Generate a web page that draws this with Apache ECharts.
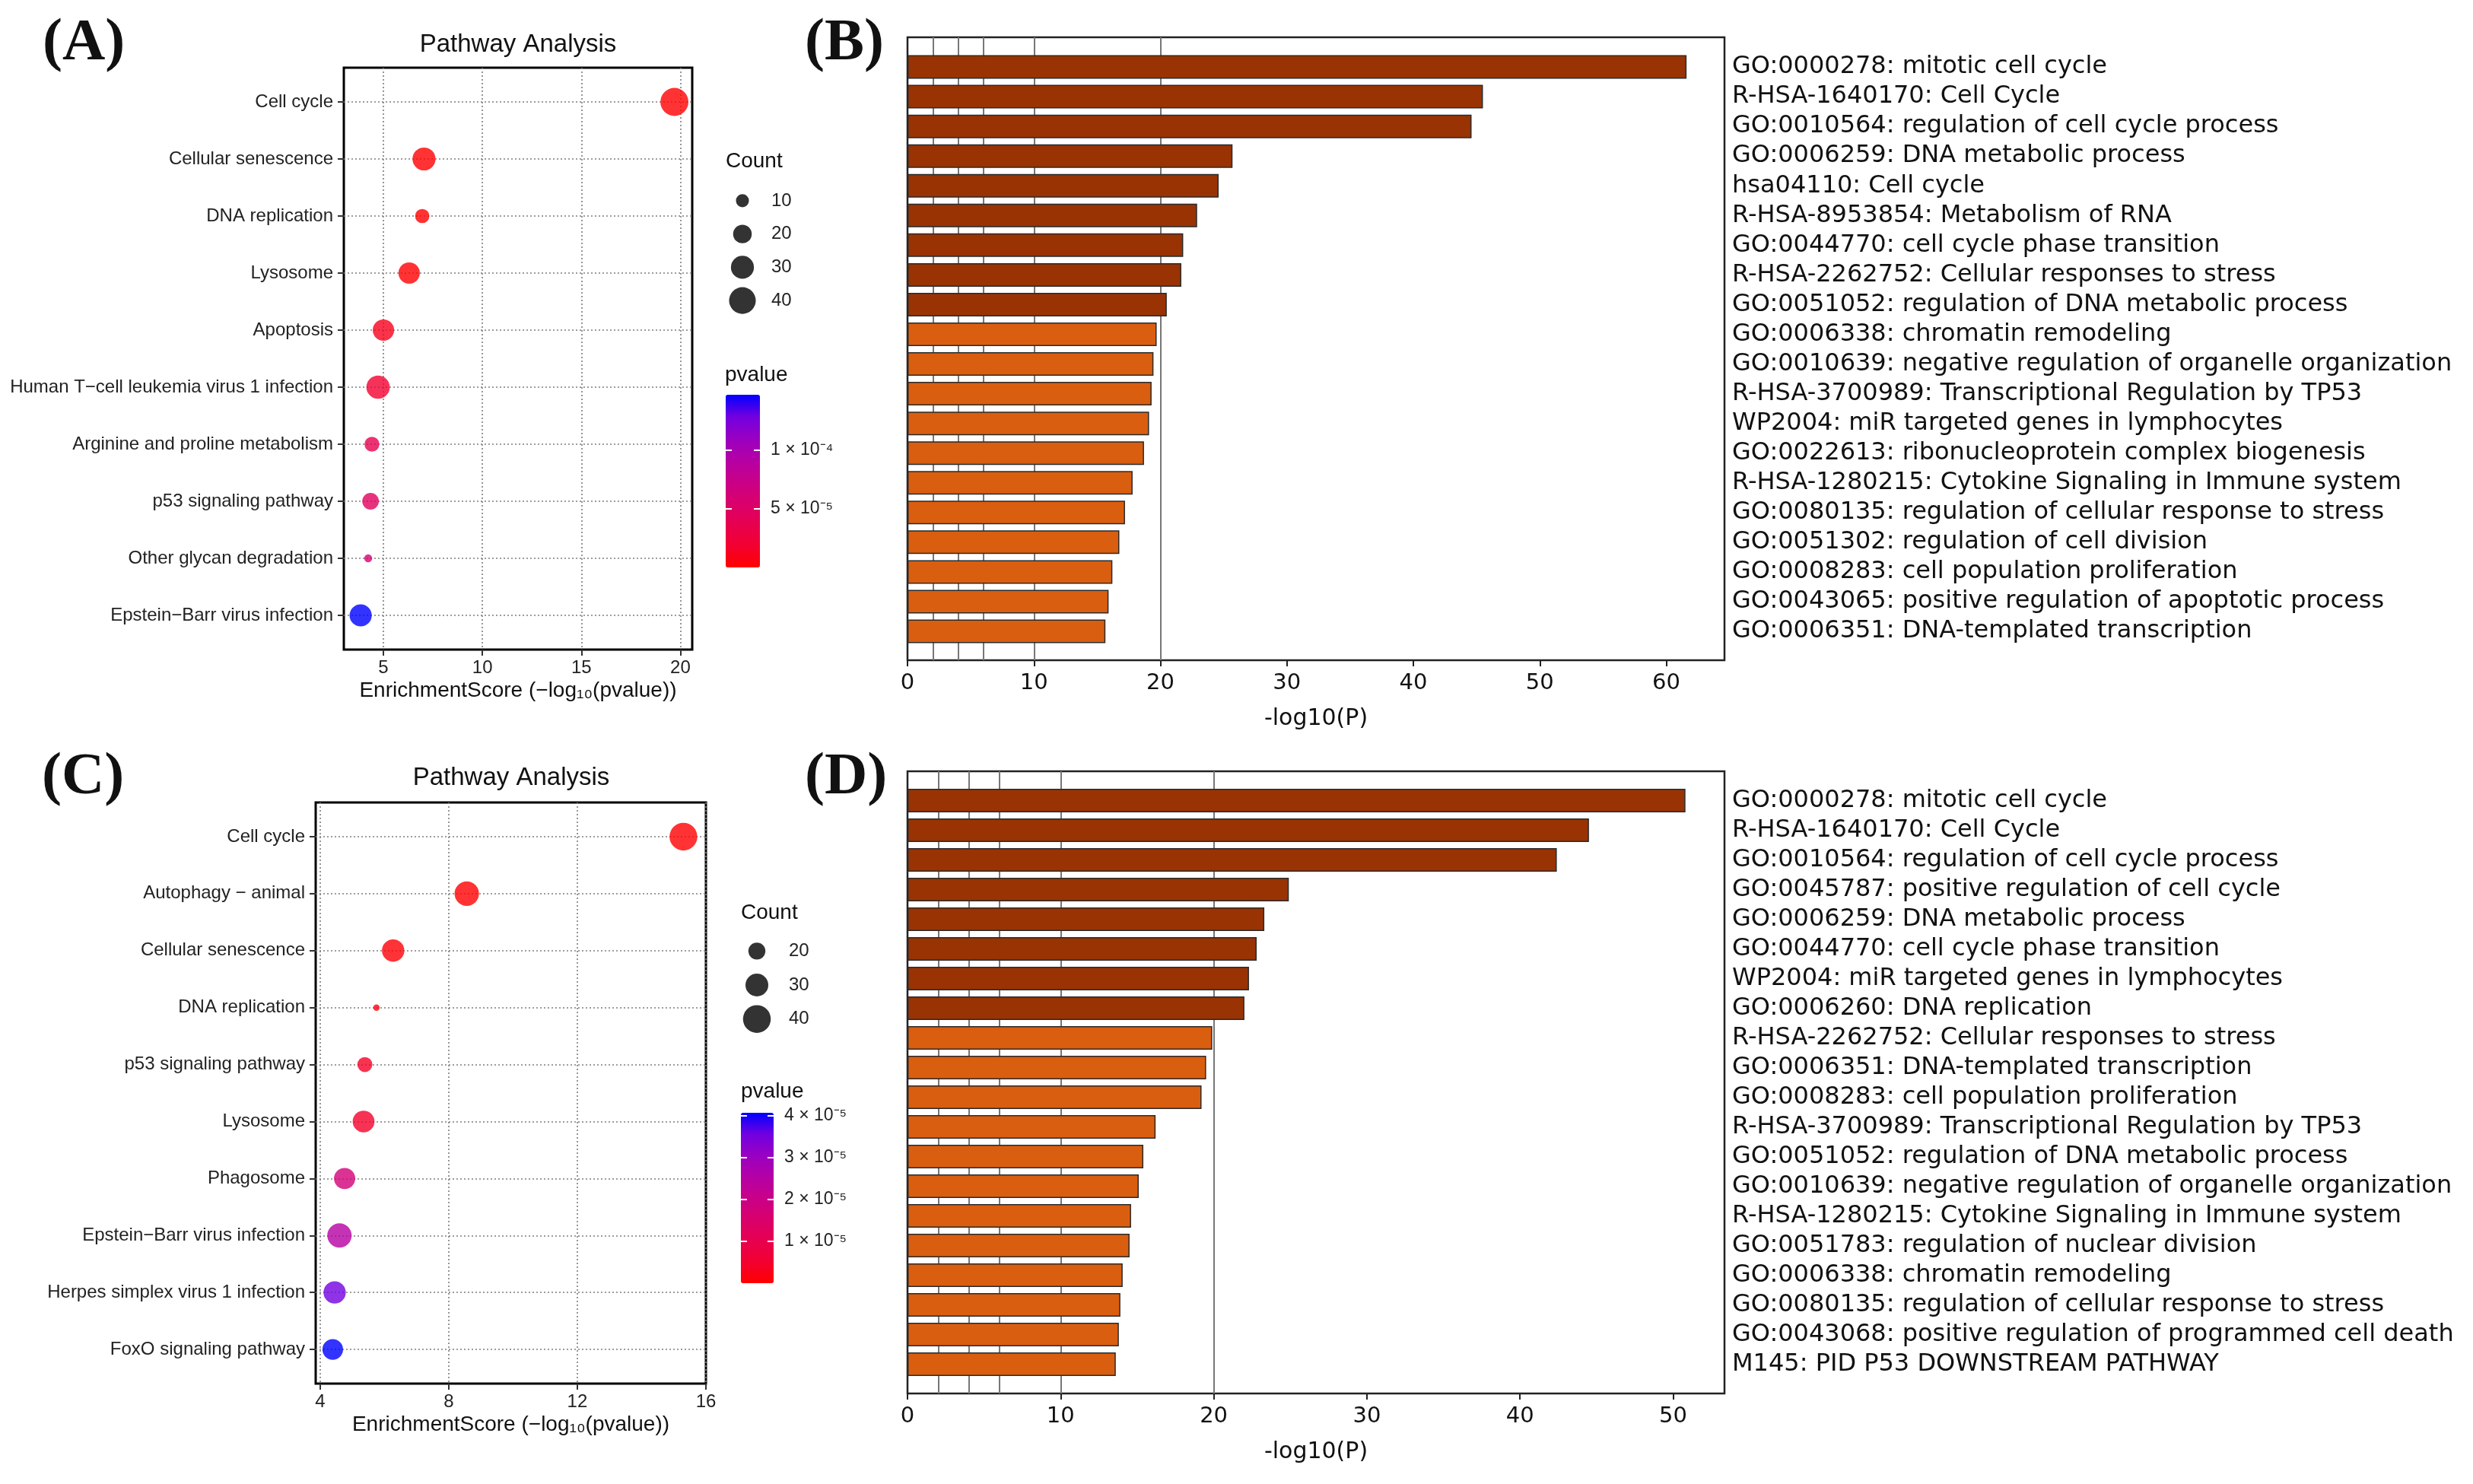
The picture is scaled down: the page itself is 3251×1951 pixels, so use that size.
<!DOCTYPE html>
<html>
<head>
<meta charset="utf-8">
<script src="https://cdn.jsdelivr.net/npm/echarts@6/dist/echarts.min.js"></script>
<style>
html, body { margin: 0; padding: 0; background: #fff; }
#main { width: 3251px; height: 1951px; }
</style>
</head>
<body>
<div id="main"></div>
<script>
// ---- panel A : KEGG bubble chart ----
var pathwaysA = ['Cell cycle', 'Cellular senescence', 'DNA replication', 'Lysosome', 'Apoptosis',
    'Human T\u2212cell leukemia virus 1 infection', 'Arginine and proline metabolism',
    'p53 signaling pathway', 'Other glycan degradation', 'Epstein\u2212Barr virus infection'];
var scoreA = [19.7, 7.05, 6.96, 6.3, 5.0, 4.73, 4.42, 4.35, 4.23, 3.85];
var countA = [44, 30, 12, 26, 26, 31, 13, 16, 4, 28];
var pvalA = [2.0e-20, 8.9e-8, 1.1e-7, 5.0e-7, 1.0e-5, 1.86e-5, 3.8e-5, 4.47e-5, 5.9e-5, 1.47e-4];
var xTicksA = [5, 10, 15, 20];
var countBreaksA = [10, 20, 30, 40];
var cbTicksA = [5e-5, 1e-4];
var cbLabelsA = ['5 \u00d7 10\u207b\u2075', '1 \u00d7 10\u207b\u2074'];

// ---- panel C : KEGG bubble chart ----
var pathwaysC = ['Cell cycle', 'Autophagy \u2212 animal', 'Cellular senescence', 'DNA replication',
    'p53 signaling pathway', 'Lysosome', 'Phagosome', 'Epstein\u2212Barr virus infection',
    'Herpes simplex virus 1 infection', 'FoxO signaling pathway'];
var scoreC = [15.3, 8.56, 6.27, 5.75, 5.39, 5.35, 4.76, 4.6, 4.45, 4.39];
var countC = [40, 33, 29, 7, 17, 28, 27, 33, 29, 26];
var pvalC = [5.0e-16, 2.8e-9, 5.4e-7, 1.8e-6, 4.1e-6, 4.5e-6, 1.74e-5, 2.5e-5, 3.55e-5, 4.07e-5];
var xTicksC = [4, 8, 12, 16];
var countBreaksC = [20, 30, 40];
var cbTicksC = [1e-5, 2e-5, 3e-5, 4e-5];
var cbLabelsC = ['1 \u00d7 10\u207b\u2075', '2 \u00d7 10\u207b\u2075', '3 \u00d7 10\u207b\u2075', '4 \u00d7 10\u207b\u2075'];

// ---- panel B : Metascape bar chart ----
var termsB = ['GO:0000278: mitotic cell cycle', 'R-HSA-1640170: Cell Cycle',
    'GO:0010564: regulation of cell cycle process', 'GO:0006259: DNA metabolic process',
    'hsa04110: Cell cycle', 'R-HSA-8953854: Metabolism of RNA',
    'GO:0044770: cell cycle phase transition', 'R-HSA-2262752: Cellular responses to stress',
    'GO:0051052: regulation of DNA metabolic process', 'GO:0006338: chromatin remodeling',
    'GO:0010639: negative regulation of organelle organization',
    'R-HSA-3700989: Transcriptional Regulation by TP53', 'WP2004: miR targeted genes in lymphocytes',
    'GO:0022613: ribonucleoprotein complex biogenesis',
    'R-HSA-1280215: Cytokine Signaling in Immune system',
    'GO:0080135: regulation of cellular response to stress', 'GO:0051302: regulation of cell division',
    'GO:0008283: cell population proliferation', 'GO:0043065: positive regulation of apoptotic process',
    'GO:0006351: DNA-templated transcription'];
var logPB = [61.6, 45.5, 44.6, 25.7, 24.6, 22.9, 21.8, 21.65, 20.5, 19.7,
    19.45, 19.3, 19.1, 18.7, 17.8, 17.2, 16.75, 16.2, 15.9, 15.65];
var xTicksB = [0, 10, 20, 30, 40, 50, 60];

// ---- panel D : Metascape bar chart ----
var termsD = ['GO:0000278: mitotic cell cycle', 'R-HSA-1640170: Cell Cycle',
    'GO:0010564: regulation of cell cycle process', 'GO:0045787: positive regulation of cell cycle',
    'GO:0006259: DNA metabolic process', 'GO:0044770: cell cycle phase transition',
    'WP2004: miR targeted genes in lymphocytes', 'GO:0006260: DNA replication',
    'R-HSA-2262752: Cellular responses to stress', 'GO:0006351: DNA-templated transcription',
    'GO:0008283: cell population proliferation', 'R-HSA-3700989: Transcriptional Regulation by TP53',
    'GO:0051052: regulation of DNA metabolic process',
    'GO:0010639: negative regulation of organelle organization',
    'R-HSA-1280215: Cytokine Signaling in Immune system', 'GO:0051783: regulation of nuclear division',
    'GO:0006338: chromatin remodeling', 'GO:0080135: regulation of cellular response to stress',
    'GO:0043068: positive regulation of programmed cell death', 'M145: PID P53 DOWNSTREAM PATHWAY'];
var logPD = [50.8, 44.5, 42.4, 24.9, 23.3, 22.8, 22.3, 22.0, 19.9, 19.5,
    19.2, 16.2, 15.4, 15.1, 14.6, 14.5, 14.05, 13.9, 13.8, 13.6];
var xTicksD = [0, 10, 20, 30, 40, 50];

// reference lines of the metascape plots (-log10 thresholds)
var refLines = [2, 4, 6, 10, 20];

var SANS = 'Liberation Sans, Arial, sans-serif';
var DEJAVU = 'DejaVu Sans, sans-serif';
var SERIF = 'Liberation Serif, Times New Roman, serif';
// red -> blue, interpolated like ggplot (Lab)
var pRamp = ['#FF0000', '#F30031', '#E7004F', '#D9006C', '#C90088', '#B400A5', '#9900C2', '#7100E0', '#0000FF'];
var dotGrid = { color: '#7d7d7d', type: [2, 3], width: 1.6 };

var grids = [], xAxes = [], yAxes = [], series = [], visualMaps = [], texts = [];

function addText(x, y, str, size, family, weight, align) {
    texts.push({
        type: 'text', x: x, y: y, silent: true,
        style: {
            text: str, fontSize: size, fontFamily: family, fontWeight: weight || 'normal',
            fill: '#111', align: align || 'left', verticalAlign: 'middle',
            textAlign: align || 'left', textVerticalAlign: 'middle'
        }
    });
}

function bubblePanel(box, names, score, count, pval, xMin, xMax, xTicks, sizeFn,
                     legBox, breaks, legMargin, cbBox, cbTicks, cbLabels) {
    var gi = grids.length;
    var idx = names.map(function (n, i) { return i; });
    grids.push({
        left: box[0], top: box[1], width: box[2], height: box[3],
        show: true, borderColor: '#000', borderWidth: 3, backgroundColor: '#fff'
    });
    xAxes.push({
        gridIndex: gi, type: 'value', min: xMin, max: xMax,
        name: 'EnrichmentScore (\u2212log\u2081\u2080(pvalue))',
        nameLocation: 'middle', nameGap: 40,
        nameTextStyle: { fontSize: 28, fontFamily: SANS, color: '#111' },
        axisLine: { show: false, onZero: false },
        axisTick: { show: true, length: 8, customValues: xTicks, lineStyle: { color: '#333', width: 2 } },
        axisLabel: { customValues: xTicks, margin: 12, fontSize: 24, fontFamily: SANS, color: '#222' },
        splitLine: { show: true, lineStyle: dotGrid }
    });
    yAxes.push({
        gridIndex: gi, type: 'value', inverse: true, min: -0.6, max: names.length - 0.4,
        axisLine: { show: false, onZero: false },
        axisTick: { show: true, length: 8, customValues: idx, lineStyle: { color: '#333', width: 2 } },
        axisLabel: {
            customValues: idx, margin: 14, fontSize: 24, fontFamily: SANS, color: '#222',
            formatter: function (v) { return names[Math.round(v)]; }
        },
        splitLine: { show: true, lineStyle: dotGrid }
    });
    var si = series.length;
    series.push({
        type: 'scatter', xAxisIndex: xAxes.length - 1, yAxisIndex: yAxes.length - 1,
        symbol: 'circle', silent: true, z: 3,
        symbolSize: function (val) { return sizeFn(val[2]); },
        data: names.map(function (n, i) { return [score[i], i, count[i], pval[i], n]; })
    });
    visualMaps.push({
        type: 'continuous', seriesIndex: si, dimension: 3,
        min: 0, max: Math.max.apply(null, pval),
        inRange: { color: pRamp },
        calculable: false, text: null, padding: 0, hoverLink: false,
        left: cbBox[0], top: cbBox[1], itemWidth: cbBox[2], itemHeight: cbBox[3]
    });

    // size legend
    var lg = grids.length;
    grids.push({ left: legBox[0], top: legBox[1], width: legBox[2], height: legBox[3] });
    xAxes.push({ gridIndex: lg, type: 'value', min: 0, max: 1, show: false });
    yAxes.push({
        gridIndex: lg, type: 'category', inverse: true, position: 'right',
        data: breaks.map(String),
        axisLine: { show: false, onZero: false }, axisTick: { show: false }, splitLine: { show: false },
        axisLabel: { margin: legMargin, fontSize: 24, fontFamily: SANS, color: '#222' }
    });
    series.push({
        type: 'scatter', xAxisIndex: xAxes.length - 1, yAxisIndex: yAxes.length - 1,
        symbol: 'circle', silent: true, itemStyle: { color: '#000' },
        symbolSize: function (val) { return sizeFn(val[2]); },
        data: breaks.map(function (b) { return [0.5, String(b), b]; })
    });

    // colorbar ticks and labels
    var cg = grids.length;
    grids.push({ left: cbBox[0], top: cbBox[1], width: cbBox[2], height: cbBox[3] });
    xAxes.push({ gridIndex: cg, type: 'value', show: false });
    yAxes.push({
        gridIndex: cg, type: 'value', position: 'right', min: 0, max: Math.max.apply(null, pval), z: 10,
        axisLine: { show: false, onZero: false }, splitLine: { show: false },
        axisTick: { show: true, inside: true, length: 8, customValues: cbTicks, lineStyle: { color: '#fff', width: 2 } },
        axisLabel: {
            customValues: cbTicks, margin: 14, fontSize: 23, fontFamily: SANS, color: '#222',
            formatter: function (v) {
                for (var k = 0; k < cbTicks.length; k++) {
                    if (Math.abs(cbTicks[k] - v) < 1e-12) return cbLabels[k];
                }
                return '';
            }
        }
    });
    yAxes.push({
        gridIndex: cg, type: 'value', position: 'left', min: 0, max: Math.max.apply(null, pval), z: 10,
        axisLine: { show: false, onZero: false }, splitLine: { show: false }, axisLabel: { show: false },
        axisTick: { show: true, inside: true, length: 8, customValues: cbTicks, lineStyle: { color: '#fff', width: 2 } }
    });
}

function barPanel(frame, data, terms, logP, xMax, xTicks) {
    var fg = grids.length;
    grids.push({
        left: frame[0], top: frame[1], width: frame[2], height: frame[3],
        show: true, borderColor: '#222', borderWidth: 2.5, backgroundColor: '#fff'
    });
    xAxes.push({
        gridIndex: fg, type: 'value', min: 0, max: xMax, position: 'bottom',
        name: '-log10(P)', nameLocation: 'middle', nameGap: 62,
        nameTextStyle: { fontSize: 30, fontFamily: DEJAVU, color: '#111' },
        axisLine: { show: false, onZero: false },
        axisTick: { show: true, length: 8, customValues: xTicks, lineStyle: { color: '#222', width: 2 } },
        axisLabel: { customValues: xTicks, margin: 16, fontSize: 29, fontFamily: DEJAVU, color: '#111' },
        splitLine: { show: false }
    });
    xAxes.push({
        gridIndex: fg, type: 'value', min: 0, max: xMax, position: 'top',
        axisLine: { show: false, onZero: false }, axisLabel: { show: false },
        axisTick: { show: false, customValues: refLines },
        splitLine: { show: true, lineStyle: { color: '#777', width: 2 } }
    });
    yAxes.push({ gridIndex: fg, type: 'value', min: 0, max: 1, show: false });

    var dg = grids.length;
    grids.push({ left: data[0], top: data[1], width: data[2], height: data[3] });
    xAxes.push({ gridIndex: dg, type: 'value', min: 0, max: xMax, show: false });
    yAxes.push({
        gridIndex: dg, type: 'category', inverse: true, position: 'right', data: terms,
        axisLine: { show: false }, axisTick: { show: false }, splitLine: { show: false },
        axisLabel: { interval: 0, margin: 10, fontSize: 32, fontFamily: DEJAVU, color: '#111' }
    });
    series.push({
        type: 'bar', xAxisIndex: xAxes.length - 1, yAxisIndex: yAxes.length - 1,
        barWidth: 31, silent: true, z: 3,
        itemStyle: {
            borderColor: '#2a2a2a', borderWidth: 1.5,
            color: function (p) { return p.value >= 20 ? '#993304' : '#DA5E0F'; }
        },
        data: logP
    });
}

// bubble diameters follow each panel's own size legend
function sizeA(c) { return 5.7 * Math.sqrt(c) - 1; }
function sizeC(c) { return 7.62 * Math.sqrt(c) - 11.7; }

bubblePanel([452, 89, 458, 765], pathwaysA, scoreA, countA, pvalA, 3.0, 20.6, xTicksA, sizeA,
    [954, 242, 44, 175], countBreaksA, 16, [954, 519, 45, 227], cbTicksA, cbLabelsA);
bubblePanel([415, 1055, 513, 764], pathwaysC, scoreC, countC, pvalC, 3.86, 16.0, xTicksC, sizeC,
    [973, 1228, 44, 134], countBreaksC, 20, [974, 1463, 43, 224], cbTicksC, cbLabelsC);
barPanel([1193, 49, 1074, 819], [1193, 68.5, 1074, 781], termsB, logPB, 64.6, xTicksB);
barPanel([1193, 1014, 1074, 818], [1193, 1033, 1074, 780], termsD, logPD, 53.35, xTicksD);

addText(56, 58, '(A)', 78, SERIF, 'bold');
addText(1058, 58, '(B)', 78, SERIF, 'bold');
addText(55, 1023, '(C)', 78, SERIF, 'bold');
addText(1058, 1023, '(D)', 78, SERIF, 'bold');
addText(681, 59, 'Pathway Analysis', 33, SANS, 'normal', 'center');
addText(672, 1023, 'Pathway Analysis', 33, SANS, 'normal', 'center');
addText(954, 212, 'Count', 28, SANS);
addText(953, 493, 'pvalue', 28, SANS);
addText(974, 1200, 'Count', 28, SANS);
addText(974, 1435, 'pvalue', 28, SANS);

var chart = echarts.init(document.getElementById('main'));
chart.setOption({
    animation: false,
    backgroundColor: '#fff',
    grid: grids,
    xAxis: xAxes,
    yAxis: yAxes,
    visualMap: visualMaps,
    series: series,
    graphic: texts
});
</script>
</body>
</html>
